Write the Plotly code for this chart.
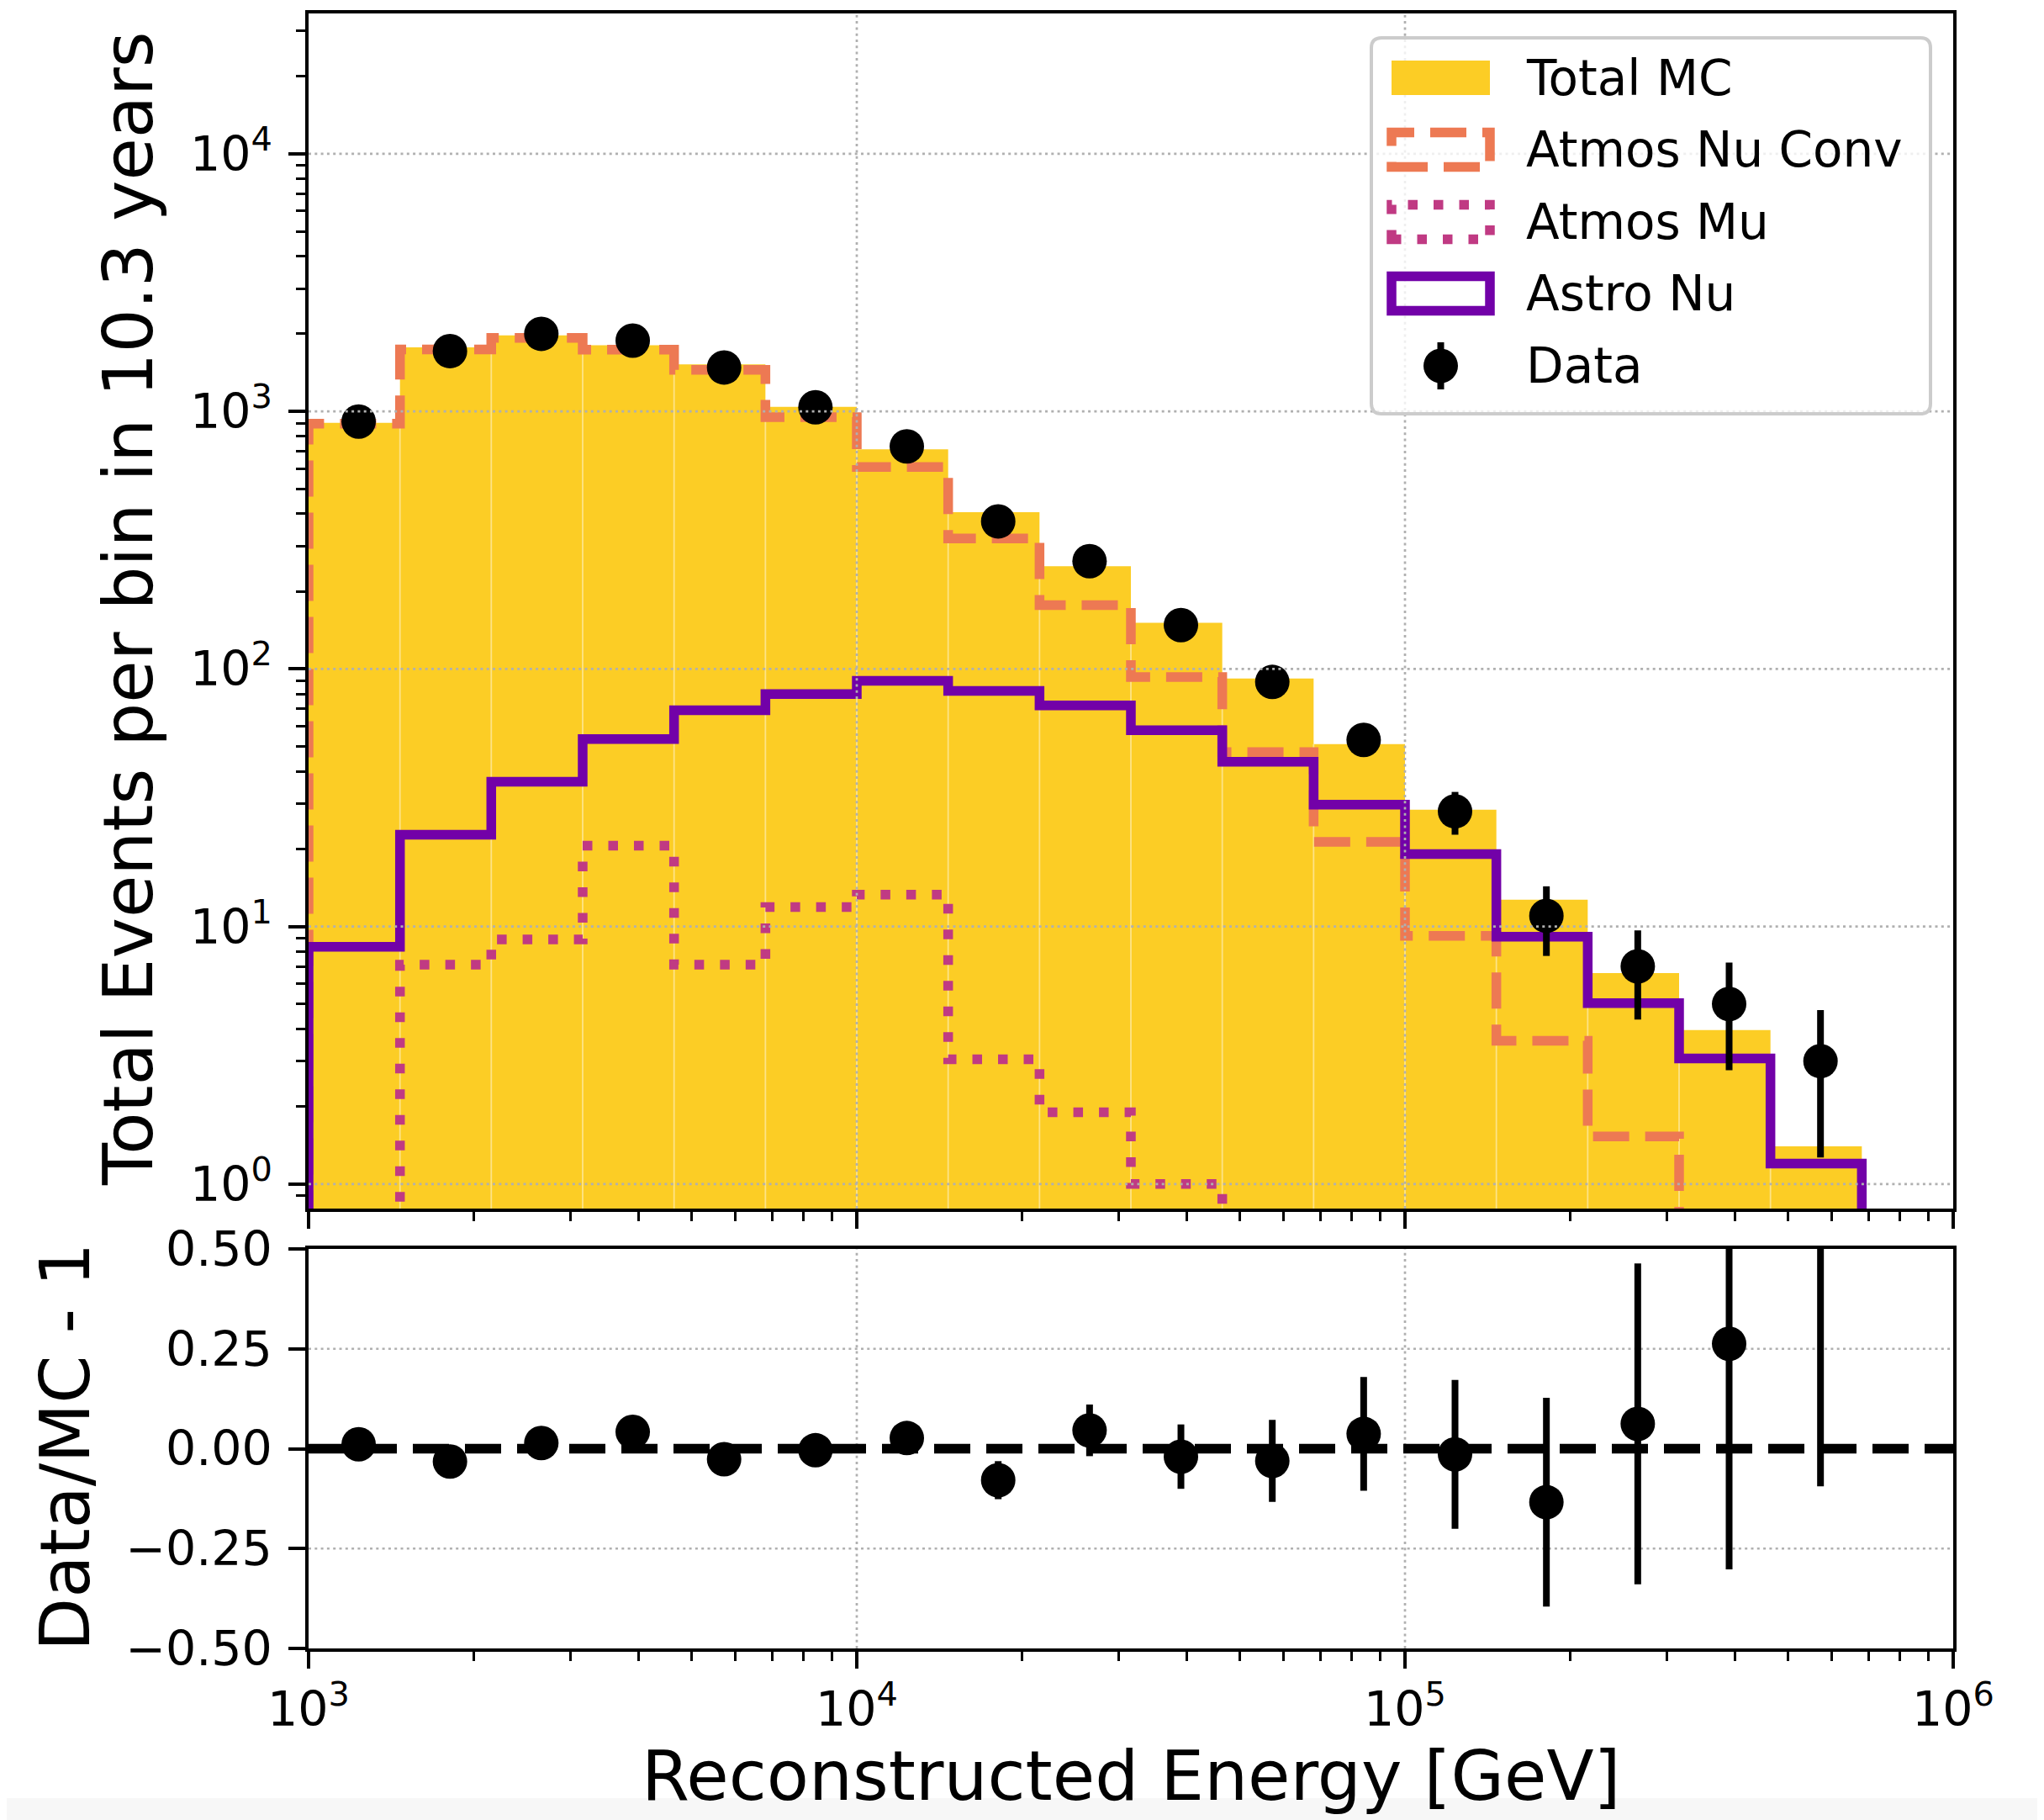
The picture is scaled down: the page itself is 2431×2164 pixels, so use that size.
import numpy as np
import plotly.graph_objects as go

# ---------------- data ----------------
edges = [1000, 1468, 2154, 3162, 4642, 6813, 10000, 14678, 21544, 31623,
         46416, 68129, 100000, 146780, 215443, 316228, 464159, 681292]
data_counts = [913, 1715, 2000, 1883, 1481, 1037, 731, 374, 262, 148,
               89, 53, 28, 11, 7, 5, 3]
total_mc = [903, 1772, 1972, 1807, 1521, 1041, 712, 406, 250.5, 151,
            91.8, 51.1, 28.4, 12.7, 6.59, 3.96, 1.40]
atmos_nu_conv = [895, 1740, 1930, 1735, 1450, 950, 608, 321, 177, 93,
                 47.5, 21.3, 9.2, 3.6, 1.53, 0.6, 0.3]
atmos_mu = [0, 7.1, 8.9, 20.6, 7.1, 11.9, 13.3, 3.05, 1.90, 1.0,
            0, 0, 0, 0, 0, 0, 0]
astro_nu = [8.34, 22.7, 36.5, 53.4, 69.1, 79.9, 89.9, 82.2, 72.1, 57.8,
            43.6, 29.7, 19.1, 9.13, 5.04, 3.07, 1.20]

legend_labels = ["Total MC", "Atmos Nu Conv", "Atmos Mu", "Astro Nu", "Data"]
main_y_ticks = [1, 10, 100, 1000, 10000]
main_y_ticktext = ["10<sup>0</sup>", "10<sup>1</sup>", "10<sup>2</sup>",
                   "10<sup>3</sup>", "10<sup>4</sup>"]
x_ticks = [1e3, 1e4, 1e5, 1e6]
x_ticktext = ["10<sup>3</sup>", "10<sup>4</sup>", "10<sup>5</sup>", "10<sup>6</sup>"]
ratio_ticks = [-0.5, -0.25, 0.0, 0.25, 0.5]
ratio_ticktext = ["\u22120.50", "\u22120.25", "0.00", "0.25", "0.50"]

# ---------------- geometry (window pixels) ----------------
WIN_W, WIN_H = 2431, 2164
OFF = 8                      # default page body margin
L, R, T, B = 367, 2323, 16, 1960
PW, PH = R - L, B - T
FW, FH = WIN_W - OFF, WIN_H - OFF

FONT = "DejaVu Sans"
C_TOT = "#fccd25"
C_CONV = "#ed7953"
C_MU = "#c03a83"
C_ASTRO = "#7201a8"
LW = 11.5
DASH = "43px,19px"
DOT = "11.5px,19px"
GRID = dict(color="#b0b0b0", width=2.7, dash="3px,4.3px")
BASE = 1e-3


def px(p):  # window column -> paper x
    return (p - L) / PW


def py(p):  # window row -> paper y
    return (B - p) / PH


def step_xy(vals):
    xs = [edges[0], edges[0]] + edges[1:-1] + [edges[-1], edges[-1]]
    v = [val if val > 0 else BASE for val in vals]
    ys = [BASE] + v + [v[-1], BASE]
    return xs, ys


centers = [(a + b) / 2 for a, b in zip(edges[:-1], edges[1:])]
data_err = [np.sqrt(d) for d in data_counts]
ratio = [d / m - 1 for d, m in zip(data_counts, total_mc)]
ratio_err = [np.sqrt(d) / m for d, m in zip(data_counts, total_mc)]

fig = go.Figure()

# Total MC filled histogram
sx, sy = step_xy(total_mc)
fig.add_trace(go.Scatter(x=sx, y=sy, mode="lines", line=dict(shape="hv", width=0, color=C_TOT),
                         fill="toself", fillcolor=C_TOT, name=legend_labels[0],
                         xaxis="x", yaxis="y"))
# faint bin-edge lines inside the fill
ex, ey = [], []
for k in range(1, len(edges) - 1):
    ex += [edges[k], edges[k], None]
    ey += [BASE, min(total_mc[k - 1], total_mc[k]), None]
fig.add_trace(go.Scatter(x=ex, y=ey, mode="lines", line=dict(color="rgba(255,255,255,0.45)", width=1.8),
                         hoverinfo="skip", xaxis="x", yaxis="y"))

for vals, name, color, dash in [
        (atmos_nu_conv, legend_labels[1], C_CONV, DASH),
        (atmos_mu, legend_labels[2], C_MU, DOT),
        (astro_nu, legend_labels[3], C_ASTRO, "solid")]:
    sx, sy = step_xy(vals)
    fig.add_trace(go.Scatter(x=sx, y=sy, mode="lines",
                             line=dict(shape="hv", width=LW, color=color, dash=dash),
                             name=name, xaxis="x", yaxis="y"))

fig.add_trace(go.Scatter(x=centers, y=data_counts, mode="markers", name=legend_labels[4],
                         marker=dict(color="black", size=41),
                         error_y=dict(type="data", array=data_err, visible=True,
                                      thickness=8, width=0, color="black"),
                         xaxis="x", yaxis="y"))

# ratio panel
fig.add_trace(go.Scatter(x=centers, y=ratio, mode="markers", name="Data/MC - 1",
                         marker=dict(color="black", size=41),
                         error_y=dict(type="data", array=ratio_err, visible=True,
                                      thickness=8, width=0, color="black"),
                         xaxis="x2", yaxis="y2"))

shapes = []
# gridlines drawn above the histograms (as in the reference)
for v in main_y_ticks:
    shapes.append(dict(type="line", xref="x domain", x0=0, x1=1, yref="y", y0=v, y1=v,
                       line=GRID, layer="above"))
for v in x_ticks[1:-1]:
    shapes.append(dict(type="line", xref="x", x0=v, x1=v, yref="y domain", y0=0, y1=1,
                       line=GRID, layer="above"))
    shapes.append(dict(type="line", xref="x2", x0=v, x1=v, yref="y2 domain", y0=0, y1=1,
                       line=GRID, layer="below"))
for v in [-0.25, 0.25]:
    shapes.append(dict(type="line", xref="x2 domain", x0=0, x1=1, yref="y2", y0=v, y1=v,
                       line=GRID, layer="below"))
# reference line at zero
shapes.append(dict(type="line", xref="x2 domain", x0=0, x1=1, yref="y2", y0=0, y1=0,
                   line=dict(color="black", width=LW, dash=DASH), layer="below"))
# light strip at the bottom of the image
shapes.append(dict(type="rect", xref="paper", yref="paper", x0=px(0), x1=px(WIN_W),
                   y0=py(WIN_H), y1=py(2138), fillcolor="#f7f7f7", line=dict(width=0),
                   layer="below"))

# ---------------- legend (frame, keys, labels) ----------------
LX0, LX1, LY0, LY1, RAD = 1631, 2296, 45, 492, 12


def rounded_rect(x0, y0, x1, y1, r):
    pts = [f"M {px(x0 + r)},{py(y0)}", f"L {px(x1 - r)},{py(y0)}",
           f"Q {px(x1)},{py(y0)} {px(x1)},{py(y0 + r)}", f"L {px(x1)},{py(y1 - r)}",
           f"Q {px(x1)},{py(y1)} {px(x1 - r)},{py(y1)}", f"L {px(x0 + r)},{py(y1)}",
           f"Q {px(x0)},{py(y1)} {px(x0)},{py(y1 - r)}", f"L {px(x0)},{py(y0 + r)}",
           f"Q {px(x0)},{py(y0)} {px(x0 + r)},{py(y0)}", "Z"]
    return " ".join(pts)


shapes.append(dict(type="path", xref="paper", yref="paper", path=rounded_rect(LX0, LY0, LX1, LY1, RAD),
                   fillcolor="rgba(255,255,255,0.8)", line=dict(color="#cccccc", width=4),
                   layer="above"))
row_y = [92.5, 178, 264, 349, 435]
KX0, KX1, KH = 1655, 1772, 20.5
key_styles = [dict(fillcolor=C_TOT, line=dict(width=0)),
              dict(fillcolor="rgba(0,0,0,0)", line=dict(color=C_CONV, width=LW, dash=DASH)),
              dict(fillcolor="rgba(0,0,0,0)", line=dict(color=C_MU, width=LW, dash=DOT)),
              dict(fillcolor="rgba(0,0,0,0)", line=dict(color=C_ASTRO, width=LW))]
for yc, st in zip(row_y[:4], key_styles):
    shapes.append(dict(type="rect", xref="paper", yref="paper",
                       x0=px(KX0), x1=px(KX1), y0=py(yc + KH), y1=py(yc - KH),
                       layer="above", **st))
mx = (KX0 + KX1) / 2
shapes.append(dict(type="line", xref="paper", yref="paper", x0=px(mx), x1=px(mx),
                   y0=py(row_y[4] + 28), y1=py(row_y[4] - 28),
                   line=dict(color="black", width=8), layer="above"))
shapes.append(dict(type="circle", xref="paper", yref="paper",
                   x0=px(mx - 20.5), x1=px(mx + 20.5), y0=py(row_y[4] + 20.5), y1=py(row_y[4] - 20.5),
                   fillcolor="black", line=dict(width=0), layer="above"))

annotations = [
    dict(text="Total Events per bin in 10.3 years", xref="paper", yref="paper",
         x=px(153), y=py(724), textangle=-90, showarrow=False,
         xanchor="center", yanchor="middle", font=dict(size=82, family=FONT)),
    dict(text="Data/MC - 1", xref="paper", yref="paper",
         x=px(77), y=py(1721), textangle=-90, showarrow=False,
         xanchor="center", yanchor="middle", font=dict(size=82, family=FONT)),
    dict(text="Reconstructed Energy [GeV]", xref="paper", yref="paper",
         x=px(1345), y=py(2111), showarrow=False,
         xanchor="center", yanchor="middle", font=dict(size=82, family=FONT)),
]
for yc, lab in zip(row_y, legend_labels):
    annotations.append(dict(text=lab, xref="paper", yref="paper", x=px(1813), y=py(yc),
                            showarrow=False, xanchor="left", yanchor="middle",
                            font=dict(size=58, family=FONT)))

minor_log = [m * 10 ** n for n in range(-1, 7) for m in range(2, 10)]

axis_common = dict(showline=True, linecolor="black", linewidth=3.5, mirror=True,
                   ticks="outside", ticklen=20, tickwidth=3.5, tickcolor="black",
                   showgrid=False, zeroline=False,
                   tickfont=dict(size=57, family=FONT, color="black"))
minor_common = dict(tickmode="array", tickvals=minor_log, ticks="outside", ticklen=11,
                    tickwidth=2.5, tickcolor="black", showgrid=False)

fig.update_layout(
    width=FW, height=FH,
    margin=dict(l=L - OFF, r=WIN_W - R, t=T - OFF, b=WIN_H - B, autoexpand=False),
    paper_bgcolor="white", plot_bgcolor="white",
    font=dict(family=FONT, color="black"),
    showlegend=False,
    xaxis=dict(type="log", range=[3, 6], domain=[0, 1], anchor="y",
               tickmode="array", tickvals=x_ticks, showticklabels=False,
               minor=minor_common, **axis_common),
    yaxis=dict(type="log", range=[-0.0954, 4.545], domain=[py(1437), 1.0], anchor="x",
               tickmode="array", tickvals=main_y_ticks, ticktext=main_y_ticktext,
               minor=minor_common, ticklabelstandoff=8, **axis_common),
    xaxis2=dict(type="log", range=[3, 6], domain=[0, 1], anchor="y2",
                tickmode="array", tickvals=x_ticks, ticktext=x_ticktext,
                minor=minor_common, **axis_common),
    yaxis2=dict(range=[-0.5, 0.5], domain=[0.0, py(1485)], anchor="x2",
                tickmode="array", tickvals=ratio_ticks, ticktext=ratio_ticktext,
                ticklabelstandoff=8, **axis_common),
    shapes=shapes,
    annotations=annotations,
)

fig.write_html("out.html")
